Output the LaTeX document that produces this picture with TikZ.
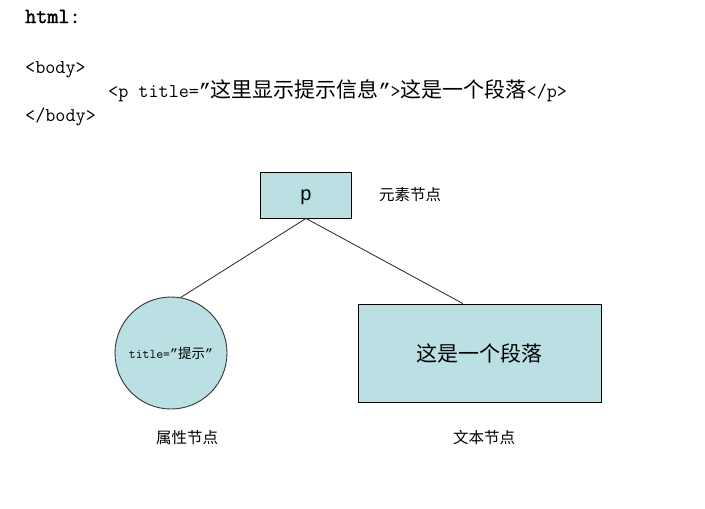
\documentclass[tikz,border=0pt]{standalone}
\usepackage{fontspec}
\setmainfont{Liberation Serif}
\setsansfont{Liberation Sans}
\newfontfamily\cjk{Noto Sans CJK SC}
\newfontfamily\quotefont{Liberation Mono}
\newfontfamily\headfont{Latin Modern Mono}[FakeBold=1.8]
\usetikzlibrary{calc}
\definecolor{nodeblue}{HTML}{BBE0E3}
\newcommand{\zh}[2]{{\cjk\fontsize{#1}{#1}\selectfont #2}}
\newcommand{\qmark}{{\quotefont ”}}
\newcommand{\codefont}{\ttfamily\fontsize{19.6}{20}\selectfont}

\begin{document}
\begin{tikzpicture}[x=1pt,y=-1pt,
  code/.style={anchor=base west,inner sep=0pt,font=\codefont},
  elem/.style={draw,fill=nodeblue,line width=0.9pt,inner sep=0pt},
  caption/.style={inner sep=0pt,font=\cjk\fontsize{15.5}{16}\selectfont},
  link/.style={line width=0.8pt,draw=black!85}]
  \fill[white] (0,0) rectangle (705,509);
  \useasboundingbox (0,0) rectangle (705,509);
  % html source
  \node[code,font=\headfont\fontsize{21.5}{22}\selectfont] (head) at (25,23) {html:};
  \node[code] (bodyopen) at (25,73) {<body>};
  \node[code] (ptag) at (108,97) {<p title=\qmark\zh{21}{这里显示提示信息}\qmark>\zh{21}{这是一个段落}</p>};
  \node[code] (bodyclose) at (25,121) {</body>};
  % node tree
  \node[elem,minimum width=91pt,minimum height=46pt,text depth=0pt,
     font=\sffamily\fontsize{20}{20}\selectfont] (p) at (306,195) {p};
  \node[caption,anchor=west] (elemlbl) at (379,195) {元素节点};
  \node[elem,circle,draw=black!80,minimum size=112pt] (attr) at (171,353)
     {\ttfamily\fontsize{13.3}{14}\selectfont title=\qmark\zh{13.5}{提示}\qmark};
  \node[elem,minimum width=243pt,minimum height=98pt] (txt) at (479.5,353) {\zh{21}{这是一个段落}};
  \node[caption] (attrlbl) at (187,438) {属性节点};
  \node[caption] (txtlbl) at (484,438) {文本节点};
  \draw[link] (p.south) -- (attr.80);
  \draw[link] (p.south) -- ($(txt.north west)!0.432!(txt.north east)$);
\end{tikzpicture}
\end{document}
